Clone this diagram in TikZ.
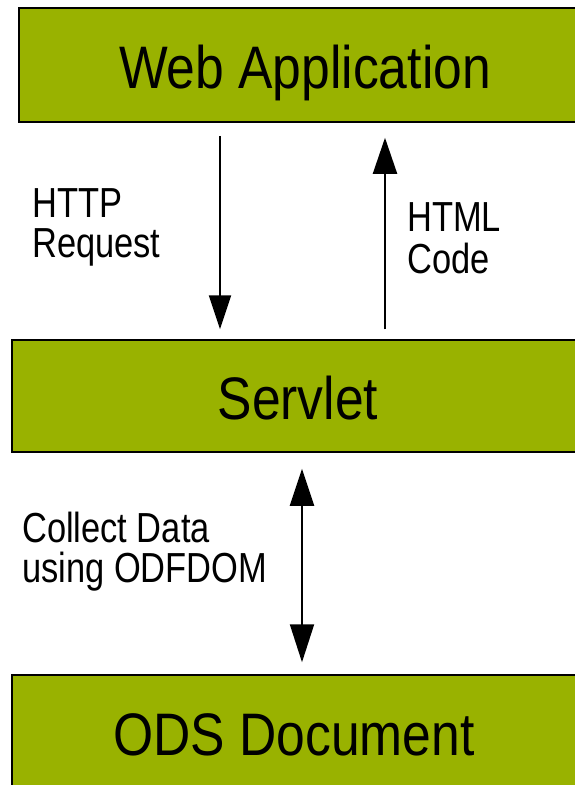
\documentclass[tikz,border=0pt]{standalone}
\usepackage{fontspec}
\setmainfont{Liberation Sans}
\newfontfamily\narrowfont{Liberation Sans}[FakeStretch=0.86]
\newfontfamily\labelfont{Liberation Sans}[FakeStretch=0.82]
\usetikzlibrary{arrows.meta}
\definecolor{boxgreen}{RGB}{153,178,0}
\tikzset{
    layer/.style={draw=black, fill=boxgreen, line width=1.5pt, inner sep=0pt,
        font=\narrowfont\fontsize{60}{72}\selectfont, text height=48pt, text depth=2pt},
    flow/.style={line width=2pt},
    note/.style={anchor=north west, inner sep=0pt, align=left}
}
\begin{document}
\begin{tikzpicture}[x=1pt,y=-1pt]
        \useasboundingbox (0,0) rectangle (574,785);
        \node[layer, minimum width=572pt, minimum height=114pt] (webapp) at (305,65) {Web Application};
        \node[layer, minimum width=572pt, minimum height=112pt] (servlet) at (298,396) {Servlet};
        \node[layer, minimum width=564pt, minimum height=114pt] (ods) at (294,732) {ODS Document};
        \coordinate (reqx) at (220,0);
        \coordinate (resx) at (385,0);
        \coordinate (datax) at (302,0);
        \draw[-{Triangle[width=22pt,length=34pt]}, flow, shorten <=13pt, shorten >=10pt] (webapp.south -| reqx) -- (servlet.north -| reqx);
        \draw[-{Triangle[width=24pt,length=36pt]}, flow, shorten <=10pt, shorten >=15pt] (servlet.north -| resx) -- (webapp.south -| resx);
        \draw[{Triangle[width=24pt,length=37pt]}-{Triangle[width=24pt,length=38pt]}, flow, shorten <=16pt, shorten >=12pt] (servlet.south -| datax) -- (ods.north -| datax);
        \node[note, font=\labelfont\fontsize{42}{40}\selectfont] (httplabel) at (32,188) {HTTP\\Request};
        \node[note, font=\labelfont\fontsize{42}{42}\selectfont] (htmllabel) at (407,202) {HTML\\Code};
        \node[note, font=\labelfont\fontsize{42}{40}\selectfont] (odflabel) at (22,512) {Collect Data\\using ODFDOM};
    \end{tikzpicture}
\end{document}
